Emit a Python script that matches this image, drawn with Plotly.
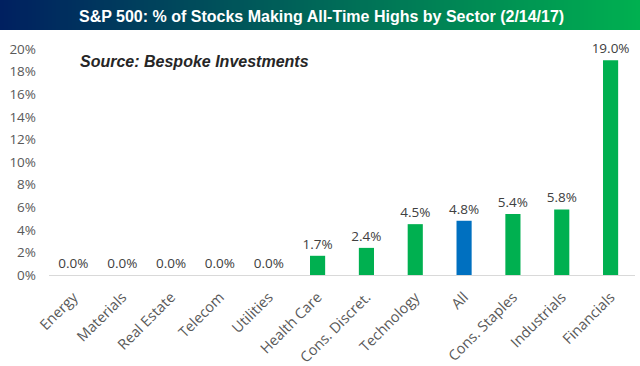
import plotly.graph_objects as go

categories = ["Energy", "Materials", "Real Estate", "Telecom", "Utilities", "Health Care",
              "Cons. Discret.", "Technology", "All", "Cons. Staples", "Industrials", "Financials"]
values = [0.0, 0.0, 0.0, 0.0, 0.0, 1.7, 2.4, 4.5, 4.8, 5.4, 5.8, 19.0]
bar_colors = ["#00b050"] * 8 + ["#0070c0"] + ["#00b050"] * 3
tick_vals = [0, 2, 4, 6, 8, 10, 12, 14, 16, 18, 20]
tick_text = [f"{v}%" for v in tick_vals]
labels = [f"{v:.1f}%" for v in values]

W, H = 640, 366
ml, mr, mt, mb = 49, 5, 49, 91
ph = H - mt - mb
FONT = "Open Sans"

fig = go.Figure()
fig.add_trace(go.Bar(
    x=categories, y=values, marker=dict(color=bar_colors, line=dict(width=0)),
    width=0.31, text=labels, textposition="outside", cliponaxis=False,
    constraintext="none", hoverinfo="skip",
    textfont=dict(family=FONT, size=13.5, color="#404040"),
))

# gradient title band
shapes = []
n = 160
c0 = (0x00, 0x20, 0x60)
c1 = (0x00, 0xb0, 0x50)
band_top = 1 + mt / ph
band_bot = 1 + (mt - 30) / ph
pw = W - ml - mr
x_left = -ml / pw
x_right = 1 + mr / pw
for i in range(n):
    t = i / (n - 1)
    col = tuple(round(c0[k] + (c1[k] - c0[k]) * t) for k in range(3))
    xa = x_left + (x_right - x_left) * i / n
    xb = x_left + (x_right - x_left) * (i + 1) / n + 0.002
    shapes.append(dict(type="rect", xref="paper", yref="paper", x0=xa, x1=xb,
                       y0=band_bot, y1=band_top, line=dict(width=0),
                       fillcolor="rgb(%d,%d,%d)" % col, layer="above"))

fig.update_layout(
    width=W, height=H,
    margin=dict(l=ml, r=mr, t=mt, b=mb, autoexpand=False),
    plot_bgcolor="white", paper_bgcolor="white",
    showlegend=False, bargap=0.69,
    shapes=shapes,
    xaxis=dict(tickangle=-45, showgrid=False, showline=True, linecolor="#d9d9d9",
               linewidth=1, ticks="", automargin=False, ticklabelstandoff=7,
               tickfont=dict(family=FONT, size=14.5, color="#595959")),
    yaxis=dict(range=[0, 20], tickvals=tick_vals, ticktext=tick_text, showgrid=False,
               zeroline=False, showline=False, ticks="", ticklabelstandoff=12, automargin=False,
               tickfont=dict(family=FONT, size=13.5, color="#595959")),
    annotations=[
        dict(text="<b>S&P 500: % of Stocks Making All-Time Highs by Sector (2/14/17)</b>",
             xref="paper", yref="paper", x=(321 - ml) / pw, y=1 + (mt - 16) / ph,
             xanchor="center", yanchor="middle", showarrow=False,
             font=dict(family="Liberation Sans", size=16, color="white")),
        dict(text="<b><i>Source: Bespoke Investments</i></b>",
             xref="paper", yref="paper", x=(78 - ml) / pw, y=1 - (62 - mt) / ph,
             xanchor="left", yanchor="middle", showarrow=False,
             font=dict(family="Liberation Sans", size=16, color="#262626")),
    ],
)

fig.write_html("out.html", config={"displayModeBar": False, "staticPlot": True},
               post_script="document.body.style.margin='0';document.body.style.overflow='hidden';")
